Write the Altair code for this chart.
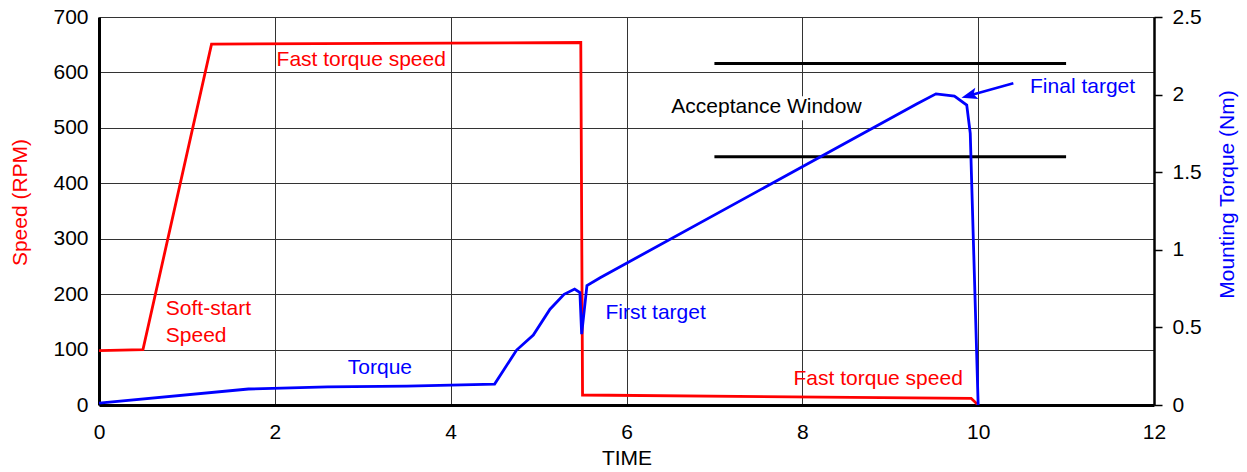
import math

import altair as alt
import pandas as pd

# ---- data -------------------------------------------------------------
# Spindle speed (RPM) over time
speed_time = [0.0, 0.5, 1.28, 5.48, 5.5, 9.92, 10.0]
speed_rpm = [98, 100, 651, 654, 18, 12, 0]

# Mounting torque (Nm) over time
torque_time = [0.0, 1.7, 2.6, 3.5, 4.5, 4.75, 4.94, 5.13, 5.29, 5.41, 5.47,
               5.49, 5.55, 5.7, 9.3, 9.52, 9.73, 9.87, 9.91, 10.0]
torque_nm = [0.012, 0.103, 0.117, 0.122, 0.135, 0.354, 0.451, 0.617, 0.713,
             0.747, 0.725, 0.457, 0.769, 0.82, 1.94, 2.005, 1.99, 1.933,
             1.75, 0.0]

# Acceptance window: torque limits (Nm) and the time span it covers
window_limits = [1.6, 2.2]
window_span = [7.0, 11.0]

# Annotations placed on the speed scale
speed_notes = ["Fast torque speed", "Soft-start", "Speed", "Fast torque speed"]
speed_note_time = [2.02, 0.76, 0.76, 7.9]
speed_note_rpm = [622, 173, 124, 47]

# Annotations placed on the torque scale
torque_notes = ["Torque", "First target", "Final target", "Acceptance Window"]
torque_note_time = [2.83, 5.76, 10.59, 6.51]
torque_note_nm = [0.238, 0.593, 2.05, 1.92]
torque_note_color = ["#0000ff", "#0000ff", "#0000ff", "#000000"]

# Arrow from the "Final target" note to the torque peak
arrow_tail = (10.40, 2.073)
arrow_tip = (9.81, 1.98)

# ---- layout -----------------------------------------------------------
W, H = 1055, 388
X_MAX, RPM_MAX, NM_MAX = 12, 700, 2.5
FONT = "Liberation Sans"
FS = 21
RED, BLUE = "#ff0000", "#0000ff"

px_per_t = W / X_MAX
px_per_nm = H / NM_MAX

# arrow direction on screen, used for the head rotation and the shaft end
dx = (arrow_tip[0] - arrow_tail[0]) * px_per_t
dy = -(arrow_tip[1] - arrow_tail[1]) * px_per_nm
head_angle = (math.degrees(math.atan2(dy, dx)) - 180) % 360
length = math.hypot(dx, dy)
back = 11.0  # shaft stops inside the arrow head (px)
shaft_end = (arrow_tip[0] - dx / length * back / px_per_t,
             arrow_tip[1] + dy / length * back / px_per_nm)

speed_df = pd.DataFrame({"t": speed_time, "v": speed_rpm})
torque_df = pd.DataFrame({"t": torque_time, "v": torque_nm})
speed_note_df = pd.DataFrame({"t": speed_note_time, "v": speed_note_rpm,
                              "label": speed_notes})
torque_note_df = pd.DataFrame({"t": torque_note_time, "v": torque_note_nm,
                               "label": torque_notes,
                               "color": torque_note_color})
window_df = pd.DataFrame({"t": [window_span[0]] * 2, "t2": [window_span[1]] * 2,
                          "v": window_limits})
arrow_df = pd.DataFrame({"t": [arrow_tail[0]], "v": [arrow_tail[1]],
                         "t2": [shaft_end[0]], "v2": [shaft_end[1]]})
head_df = pd.DataFrame({"t": [arrow_tip[0]], "v": [arrow_tip[1]]})

# white backing behind the "Acceptance Window" note
aw = torque_notes.index("Acceptance Window")
backing_df = pd.DataFrame({"t": [torque_note_time[aw] - 0.06],
                           "t2": [torque_note_time[aw] + 2.2],
                           "v": [torque_note_nm[aw] - 0.085],
                           "v2": [torque_note_nm[aw] + 0.07]})

x_axis = alt.Axis(
    values=list(range(0, X_MAX + 1, 2)), grid=True, gridColor="#333333",
    gridWidth=1, ticks=False, domainColor="#000000", domainWidth=3,
    labelFont=FONT, labelFontSize=FS, labelColor="#000000", labelPadding=16,
    labelFlush=False,
    title="TIME", titleFont=FONT, titleFontSize=FS, titleFontWeight="normal",
    titleColor="#000000", titleY=53, titleBaseline="middle",
)
x_scale = alt.Scale(domain=[0, X_MAX], nice=False, zero=False)

speed_axis = alt.Axis(
    values=list(range(0, RPM_MAX + 1, 100)), format="d", grid=True,
    gridColor="#333333", gridWidth=1, ticks=False, domainColor="#000000",
    domainWidth=3, labelFont=FONT, labelFontSize=FS, labelColor="#000000",
    labelPadding=11, title="Speed (RPM)", titleFont=FONT, titleFontSize=FS,
    titleFontWeight="normal", titleColor=RED, titleAngle=270, titleX=-79,
    titleY=185, titleAlign="center", titleBaseline="middle",
)
speed_scale = alt.Scale(domain=[0, RPM_MAX], nice=False)

torque_axis = alt.Axis(
    orient="right", values=[0, 0.5, 1, 1.5, 2, 2.5], format="~g", grid=False,
    ticks=True, tickSize=8, tickWidth=1.5, tickColor="#000000",
    domainColor="#000000", domainWidth=2.5, labelFont=FONT, labelFontSize=FS,
    labelColor="#000000", labelPadding=10, title="Mounting Torque (Nm)",
    titleFont=FONT, titleFontSize=FS, titleFontWeight="normal",
    titleColor=BLUE, titleAngle=270, titleX=73, titleY=177,
    titleAlign="center", titleBaseline="middle",
)
torque_scale = alt.Scale(domain=[0, NM_MAX], nice=False)


def X(field="t"):
    return alt.X(f"{field}:Q", scale=x_scale, axis=x_axis)


def Ys(field="v"):
    return alt.Y(f"{field}:Q", scale=speed_scale, axis=speed_axis)


def Yt(field="v"):
    return alt.Y(f"{field}:Q", scale=torque_scale, axis=torque_axis)


# ---- speed group (left axis) -------------------------------------------
speed_line = alt.Chart(speed_df).mark_line(
    color=RED, strokeWidth=2.8, clip=True
).encode(x=X(), y=Ys(), order="t:Q")

speed_text = alt.Chart(speed_note_df).mark_text(
    align="left", baseline="middle", font=FONT, fontSize=FS, color=RED
).encode(x=X(), y=Ys(), text="label:N")

speed_group = alt.layer(speed_line, speed_text)

# ---- torque group (right axis) -----------------------------------------
backing = alt.Chart(backing_df).mark_rect(color="#ffffff").encode(
    x=X(), x2="t2:Q", y=Yt(), y2="v2:Q"
)

window = alt.Chart(window_df).mark_rule(color="#000000", strokeWidth=3).encode(
    x=X(), x2="t2:Q", y=Yt()
)

torque_line = alt.Chart(torque_df).mark_line(
    color=BLUE, strokeWidth=2.8, clip=True
).encode(x=X(), y=Yt(), order="t:Q")

torque_text = alt.Chart(torque_note_df).mark_text(
    align="left", baseline="middle", font=FONT, fontSize=FS
).encode(x=X(), y=Yt(), text="label:N", color=alt.Color("color:N", scale=None))

arrow_shaft = alt.Chart(arrow_df).mark_rule(color=BLUE, strokeWidth=2.5).encode(
    x=X(), x2="t2:Q", y=Yt(), y2="v2:Q"
)

arrow_head = alt.Chart(head_df).mark_point(
    shape="M0,0L1,-0.36L0.78,0L1,0.36Z", size=1024, filled=True,
    color=BLUE, opacity=1, strokeWidth=0, angle=head_angle
).encode(x=X(), y=Yt())

torque_group = alt.layer(backing, window, torque_line, torque_text,
                         arrow_shaft, arrow_head)

chart = (
    alt.layer(speed_group, torque_group)
    .resolve_scale(y="independent")
    .properties(
        width=W, height=H,
        autosize=alt.AutoSizeParams(type="none"),
        padding={"left": 99, "top": 17, "right": 1247 - 99 - W,
                 "bottom": 472 - 17 - H},
        background="#ffffff",
    )
    .configure_view(stroke=None)
    .configure(font=FONT)
)

chart.save("out.html", embed_options={"renderer": "svg", "actions": False})
